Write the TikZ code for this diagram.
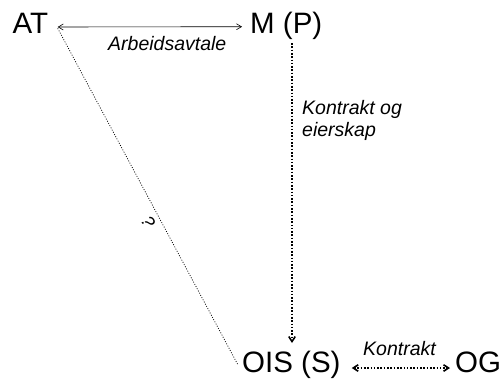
\documentclass[tikz,border=0pt]{standalone}
\usepackage{fontspec}
\setmainfont{Liberation Sans}
\usetikzlibrary{arrows.meta}
\begin{document}
\begin{tikzpicture}[x=1bp,y=1bp,
  big/.style={inner sep=0pt, font=\fontsize{29.5bp}{32bp}\selectfont, anchor=base west},
  lab/.style={inner sep=0pt, font=\fontsize{19.5bp}{22bp}\selectfont\itshape, align=left},
  mybarb/.tip={Straight Barb[length=5bp,width=6.5bp]},
  thinbarb/.tip={Straight Barb[length=5bp,width=6bp]},
  solidlink/.style={line width=0.6bp, {thinbarb}-{thinbarb}},
  dotlink/.style={line width=1.6bp, dash pattern=on 1.6bp off 1.7bp},
  finedot/.style={line width=0.75bp, dash pattern=on 0.9bp off 1.6bp},
]
\useasboundingbox (0,0) rectangle (504,383);

% parties
\node[big] (AT)  at (12.5,349.7) {AT};
\node[big] (M)   at (250,350)    {M (P)};
\node[big] (OIS) at (242,11)     {OIS (S)};
\node[big] (OG)  at (455,11)     {OG};

% employment agreement
\draw[solidlink] ([xshift=9.3bp,yshift=6.3bp]AT.base east) -- ([xshift=-8bp,yshift=6.3bp]M.base west);
\node[lab, anchor=base west] (arb) at (108,333) {Arbeidsavtale};

% contract and ownership
\coordinate (mtop) at ([xshift=42bp,yshift=-10bp]M.base west);
\coordinate (ois) at ([yshift=29bp]OIS.base west);
\draw[dotlink, -{mybarb}] (mtop) -- (mtop |- ois);
\node[lab, anchor=north west] (eier) at (302,283) {Kontrakt og\\eierskap};

% contract between OIS and OG
\draw[dotlink, {mybarb}-{mybarb}] ([xshift=11bp,yshift=4bp]OIS.base east) -- ([xshift=-5bp,yshift=4bp]OG.base west);
\node[lab, anchor=base west] (kon) at (363,28) {Kontrakt};

% unclear relation
\draw[finedot] ([xshift=9.3bp,yshift=5bp]AT.base east) -- ([xshift=-4bp,yshift=7bp]OIS.base west)
  node[pos=0.56, sloped, below=5bp, inner sep=0pt, font=\fontsize{18bp}{20bp}\selectfont\itshape] (q) {?};
\end{tikzpicture}
\end{document}
